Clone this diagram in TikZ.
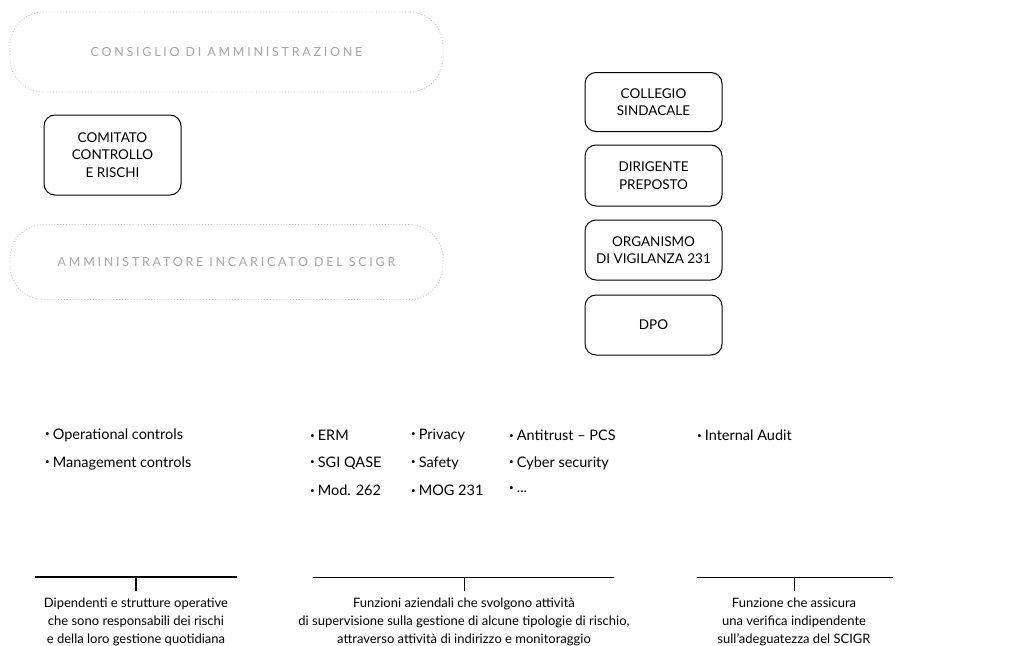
\documentclass[tikz,border=0pt]{standalone}
\usepackage{fontspec}
\setmainfont{Lato}
\newcommand{\bdot}{\raisebox{2.2pt}{\fontsize{8}{8}\selectfont •}\hspace{3pt}}
\begin{document}
\begin{tikzpicture}[x=1pt,y=-1pt,
  bigbox/.style={draw=gray!45,dotted,line width=0.9pt,rounded corners=34pt,minimum width=433pt,text=gray!70,font=\fontsize{12.5}{14}\selectfont\addfontfeature{LetterSpace=22}},
  orgbox/.style={draw,line width=1pt,rounded corners=11pt,minimum width=137pt,align=center,font=\fontsize{13.5}{17.5}\selectfont},
  bul/.style={anchor=west,inner sep=0pt,font=\fontsize{14.5}{16}\selectfont},
  desc/.style={align=center,inner sep=0pt,font=\fontsize{13}{18}\selectfont},
  rule/.style={line width=0.6pt}]
\useasboundingbox (0,0) rectangle (1011,645);
% large boxes
\node[bigbox,minimum height=80pt] (cda) at (226.5,52) {CONSIGLIO DI AMMINISTRAZIONE};
\node[bigbox,minimum height=75pt] (ai) at (226.5,262) {AMMINISTRATORE INCARICATO DEL SCIGR};
% boxes
\node[orgbox,minimum height=80pt] (ccr) at (112.5,155) {COMITATO\\CONTROLLO\\E RISCHI};
\node[orgbox,minimum height=59pt] (cs) at (653.5,102) {COLLEGIO\\SINDACALE};
\node[orgbox,minimum height=61pt] (dp) at (653.5,175.5) {DIRIGENTE\\PREPOSTO};
\node[orgbox,minimum height=60pt] (odv) at (653.5,250) {ORGANISMO\\DI VIGILANZA 231};
\node[orgbox,minimum height=60pt] (dpo) at (653.5,325) {DPO};
% bullets
\node[bul] (b11) at (45,435) {\bdot Operational controls};
\node[bul] (b12) at (45,463) {\bdot Management controls};
\node[bul] (b21) at (310,435) {\bdot ERM};
\node[bul] (b22) at (310,463) {\bdot SGI QASE};
\node[bul] (b23) at (310,490) {\bdot Mod. 262};
\node[bul] (b31) at (411,435) {\bdot Privacy};
\node[bul] (b32) at (411,463) {\bdot Safety};
\node[bul] (b33) at (411,490) {\bdot MOG 231};
\node[bul] (b41) at (509,435) {\bdot Antitrust – PCS};
\node[bul] (b42) at (509,463) {\bdot Cyber security};
\node[bul] (b43) at (509,490) {\bdot ...};
\node[bul] (b51) at (697,435) {\bdot Internal Audit};
% rules
\coordinate (l1a) at (35,577); \coordinate (l1b) at (237,577);
\coordinate (t1a) at (136,577); \coordinate (t1b) at (136,591);
\coordinate (l2a) at (313,577); \coordinate (l2b) at (614,577);
\coordinate (t2a) at (464,577); \coordinate (t2b) at (464,591);
\coordinate (l3a) at (697,577); \coordinate (l3b) at (893,577);
\coordinate (t3a) at (794,577); \coordinate (t3b) at (794,591);
\draw[rule,line width=1.3pt] (l1a) -- (l1b);
\draw[rule,line width=1.3pt] (t1a) -- (t1b);
\draw[rule] (l2a) -- (l2b);
\draw[rule] (t2a) -- (t2b);
\draw[rule] (l3a) -- (l3b);
\draw[rule] (t3a) -- (t3b);
% descriptions
\node[desc] (d1) at (136,622) {Dipendenti e strutture operative\\che sono responsabili dei rischi\\e della loro gestione quotidiana};
\node[desc] (d2) at (464,622) {Funzioni aziendali che svolgono attività\\di supervisione sulla gestione di alcune tipologie di rischio,\\attraverso attività di indirizzo e monitoraggio};
\node[desc] (d3) at (794,622) {Funzione che assicura\\una verifica indipendente\\sull'adeguatezza del SCIGR};
\end{tikzpicture}
\end{document}
